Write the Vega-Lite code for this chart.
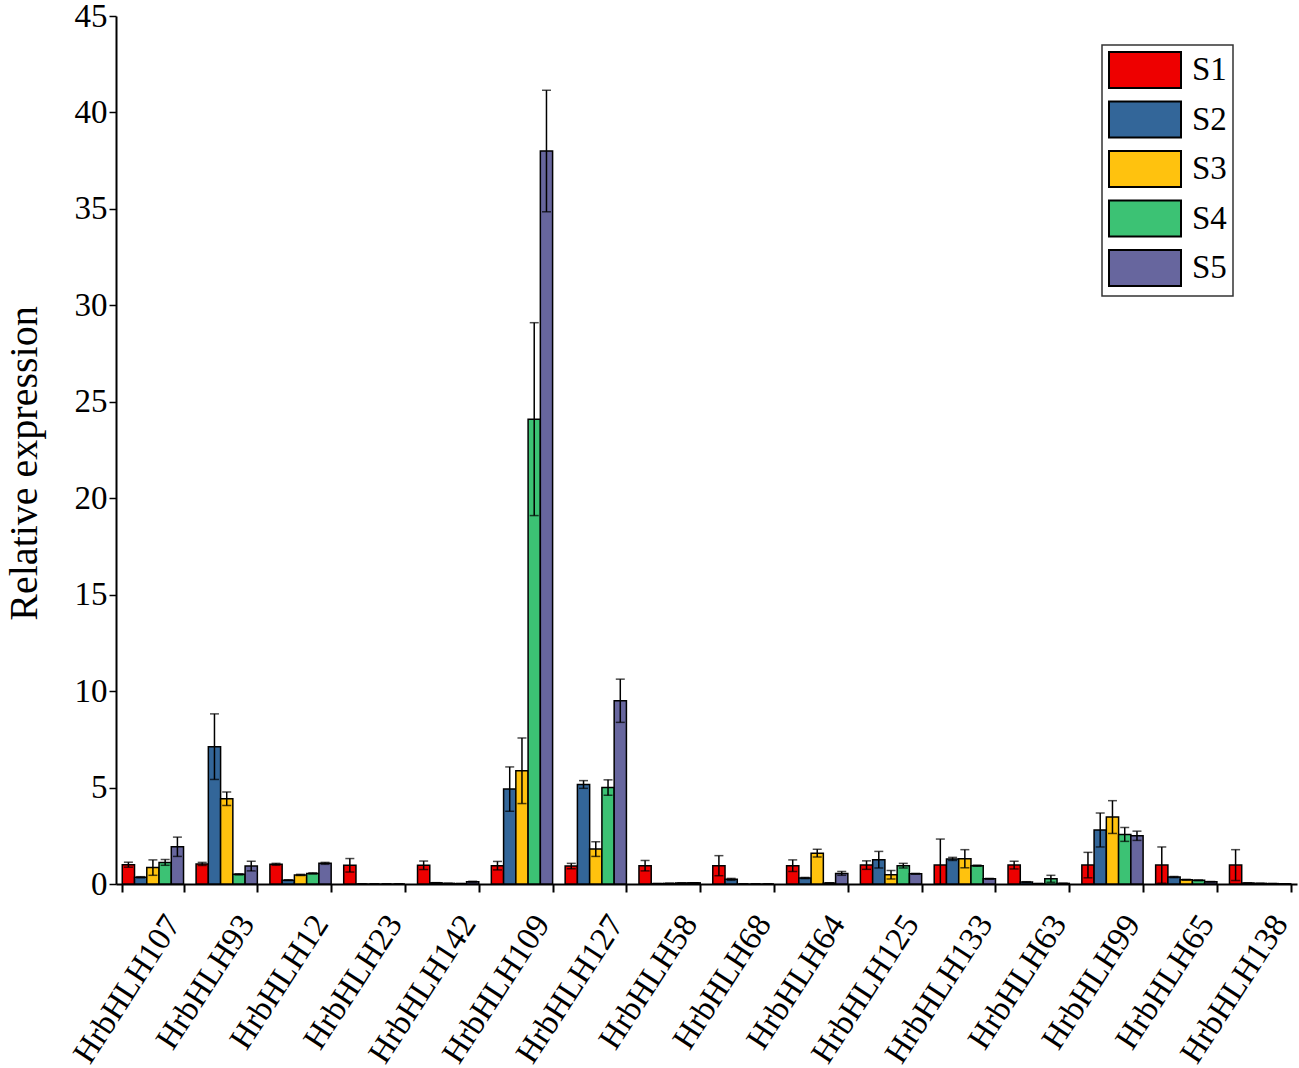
{
  "$schema": "https://vega.github.io/schema/vega-lite/v6.json",
  "width": 1181,
  "height": 868,
  "autosize": {"type": "none"},
  "padding": {"left": 116, "top": 16, "right": 2, "bottom": 184},
  "background": "white",
  "config": {
    "font": "Liberation Serif",
    "view": {"stroke": null},
    "axis": {"grid": false, "domainColor": "black", "tickColor": "black", "labelColor": "black", "titleColor": "black", "labelFont": "Liberation Serif", "titleFont": "Liberation Serif"},
    "legend": {"strokeWidth": 1.5, "labelFont": "Liberation Serif"}
  },
  "data": {
    "values": [
      {"gene": "HrbHLH107", "sample": "S1", "value": 1.0, "err": 0.13},
      {"gene": "HrbHLH107", "sample": "S2", "value": 0.35, "err": 0.03},
      {"gene": "HrbHLH107", "sample": "S3", "value": 0.85, "err": 0.4},
      {"gene": "HrbHLH107", "sample": "S4", "value": 1.12, "err": 0.15},
      {"gene": "HrbHLH107", "sample": "S5", "value": 1.93, "err": 0.5},
      {"gene": "HrbHLH93", "sample": "S1", "value": 1.04, "err": 0.08},
      {"gene": "HrbHLH93", "sample": "S2", "value": 7.12, "err": 1.7},
      {"gene": "HrbHLH93", "sample": "S3", "value": 4.42, "err": 0.35},
      {"gene": "HrbHLH93", "sample": "S4", "value": 0.5, "err": 0.03},
      {"gene": "HrbHLH93", "sample": "S5", "value": 0.93, "err": 0.25},
      {"gene": "HrbHLH12", "sample": "S1", "value": 1.02, "err": 0.05},
      {"gene": "HrbHLH12", "sample": "S2", "value": 0.2, "err": 0.02},
      {"gene": "HrbHLH12", "sample": "S3", "value": 0.47, "err": 0.03},
      {"gene": "HrbHLH12", "sample": "S4", "value": 0.55, "err": 0.03},
      {"gene": "HrbHLH12", "sample": "S5", "value": 1.07, "err": 0.05},
      {"gene": "HrbHLH23", "sample": "S1", "value": 0.97, "err": 0.35},
      {"gene": "HrbHLH23", "sample": "S2", "value": 0, "err": 0},
      {"gene": "HrbHLH23", "sample": "S3", "value": 0, "err": 0},
      {"gene": "HrbHLH23", "sample": "S4", "value": 0, "err": 0},
      {"gene": "HrbHLH23", "sample": "S5", "value": 0, "err": 0},
      {"gene": "HrbHLH142", "sample": "S1", "value": 0.97, "err": 0.22},
      {"gene": "HrbHLH142", "sample": "S2", "value": 0.06, "err": 0.01},
      {"gene": "HrbHLH142", "sample": "S3", "value": 0.03, "err": 0},
      {"gene": "HrbHLH142", "sample": "S4", "value": 0.02, "err": 0},
      {"gene": "HrbHLH142", "sample": "S5", "value": 0.12, "err": 0.02},
      {"gene": "HrbHLH109", "sample": "S1", "value": 0.95, "err": 0.22},
      {"gene": "HrbHLH109", "sample": "S2", "value": 4.92, "err": 1.15},
      {"gene": "HrbHLH109", "sample": "S3", "value": 5.87, "err": 1.7},
      {"gene": "HrbHLH109", "sample": "S4", "value": 24.1, "err": 5.0},
      {"gene": "HrbHLH109", "sample": "S5", "value": 38.0, "err": 3.15},
      {"gene": "HrbHLH127", "sample": "S1", "value": 0.93, "err": 0.14},
      {"gene": "HrbHLH127", "sample": "S2", "value": 5.16, "err": 0.2},
      {"gene": "HrbHLH127", "sample": "S3", "value": 1.81, "err": 0.38},
      {"gene": "HrbHLH127", "sample": "S4", "value": 5.0, "err": 0.4},
      {"gene": "HrbHLH127", "sample": "S5", "value": 9.5, "err": 1.12},
      {"gene": "HrbHLH58", "sample": "S1", "value": 0.95, "err": 0.27},
      {"gene": "HrbHLH58", "sample": "S2", "value": 0.02, "err": 0},
      {"gene": "HrbHLH58", "sample": "S3", "value": 0.03, "err": 0},
      {"gene": "HrbHLH58", "sample": "S4", "value": 0.05, "err": 0},
      {"gene": "HrbHLH58", "sample": "S5", "value": 0.06, "err": 0},
      {"gene": "HrbHLH68", "sample": "S1", "value": 0.95, "err": 0.52},
      {"gene": "HrbHLH68", "sample": "S2", "value": 0.24, "err": 0.05},
      {"gene": "HrbHLH68", "sample": "S3", "value": 0, "err": 0},
      {"gene": "HrbHLH68", "sample": "S4", "value": 0, "err": 0},
      {"gene": "HrbHLH68", "sample": "S5", "value": 0, "err": 0},
      {"gene": "HrbHLH64", "sample": "S1", "value": 0.95, "err": 0.3},
      {"gene": "HrbHLH64", "sample": "S2", "value": 0.31, "err": 0.03},
      {"gene": "HrbHLH64", "sample": "S3", "value": 1.6, "err": 0.2},
      {"gene": "HrbHLH64", "sample": "S4", "value": 0.05, "err": 0.01},
      {"gene": "HrbHLH64", "sample": "S5", "value": 0.55, "err": 0.1},
      {"gene": "HrbHLH125", "sample": "S1", "value": 0.98, "err": 0.22},
      {"gene": "HrbHLH125", "sample": "S2", "value": 1.26, "err": 0.43},
      {"gene": "HrbHLH125", "sample": "S3", "value": 0.48, "err": 0.22},
      {"gene": "HrbHLH125", "sample": "S4", "value": 0.95, "err": 0.12},
      {"gene": "HrbHLH125", "sample": "S5", "value": 0.53, "err": 0.02},
      {"gene": "HrbHLH133", "sample": "S1", "value": 0.98, "err": 1.35},
      {"gene": "HrbHLH133", "sample": "S2", "value": 1.3, "err": 0.08},
      {"gene": "HrbHLH133", "sample": "S3", "value": 1.31, "err": 0.47},
      {"gene": "HrbHLH133", "sample": "S4", "value": 0.95, "err": 0.03},
      {"gene": "HrbHLH133", "sample": "S5", "value": 0.27, "err": 0.02},
      {"gene": "HrbHLH63", "sample": "S1", "value": 0.98, "err": 0.2},
      {"gene": "HrbHLH63", "sample": "S2", "value": 0.1, "err": 0.02},
      {"gene": "HrbHLH63", "sample": "S3", "value": 0.02, "err": 0},
      {"gene": "HrbHLH63", "sample": "S4", "value": 0.27, "err": 0.18},
      {"gene": "HrbHLH63", "sample": "S5", "value": 0.03, "err": 0},
      {"gene": "HrbHLH99", "sample": "S1", "value": 0.98, "err": 0.66},
      {"gene": "HrbHLH99", "sample": "S2", "value": 2.8, "err": 0.88},
      {"gene": "HrbHLH99", "sample": "S3", "value": 3.47, "err": 0.85},
      {"gene": "HrbHLH99", "sample": "S4", "value": 2.57, "err": 0.36},
      {"gene": "HrbHLH99", "sample": "S5", "value": 2.5, "err": 0.24},
      {"gene": "HrbHLH65", "sample": "S1", "value": 0.98, "err": 0.94},
      {"gene": "HrbHLH65", "sample": "S2", "value": 0.36, "err": 0.03},
      {"gene": "HrbHLH65", "sample": "S3", "value": 0.22, "err": 0.02},
      {"gene": "HrbHLH65", "sample": "S4", "value": 0.19, "err": 0.02},
      {"gene": "HrbHLH65", "sample": "S5", "value": 0.12, "err": 0.01},
      {"gene": "HrbHLH138", "sample": "S1", "value": 0.98, "err": 0.8},
      {"gene": "HrbHLH138", "sample": "S2", "value": 0.05, "err": 0},
      {"gene": "HrbHLH138", "sample": "S3", "value": 0.03, "err": 0},
      {"gene": "HrbHLH138", "sample": "S4", "value": 0.02, "err": 0},
      {"gene": "HrbHLH138", "sample": "S5", "value": 0.01, "err": 0}
    ]
  },
  "encoding": {
    "x": {
      "field": "gene",
      "type": "nominal",
      "sort": null,
      "scale": {"paddingInner": 0.17, "paddingOuter": 0.085},
      "axis": {
        "title": null,
        "labelAngle": -57,
        "labelAlign": "right",
        "labelBaseline": "middle",
        "labelFontSize": 33,
        "labelPadding": 26,
        "labelOffset": 20,
        "tickBand": "extent",
        "tickSize": 8,
        "tickWidth": 2,
        "domainWidth": 2
      }
    },
    "xOffset": {"field": "sample", "type": "nominal", "scale": {"paddingInner": 0, "paddingOuter": 0}}
  },
  "layer": [
    {
      "mark": {"type": "bar", "stroke": "black", "strokeWidth": 1.5},
      "encoding": {
        "y": {
          "field": "value",
          "type": "quantitative",
          "scale": {"domain": [0, 45], "nice": false},
          "title": "Relative expression",
          "axis": {
            "titleFontSize": 40,
            "titleFontWeight": "normal",
            "titlePadding": 30,
            "titleY": 447,
            "values": [0, 5, 10, 15, 20, 25, 30, 35, 40, 45],
            "labelFont": "Liberation Serif",
            "labelFontSize": 33,
            "labelPadding": 2,
            "tickSize": 7,
            "tickWidth": 1.5,
            "domainWidth": 2
          }
        },
        "color": {
          "field": "sample",
          "type": "nominal",
          "scale": {"domain": ["S1", "S2", "S3", "S4", "S5"], "range": ["#ee0000", "#336699", "#ffc20e", "#3cc274", "#67669e"]},
          "legend": {
            "title": null,
            "orient": "none",
            "legendX": 986,
            "legendY": 29,
            "symbolType": "M-1,-1H3V1H-1Z",
            "symbolSize": 1296,
            "symbolStrokeColor": "black",
            "symbolStrokeWidth": 2,
            "symbolOpacity": 1,
            "labelFontSize": 33,
            "labelOffset": 46,
            "labelColor": "black",
            "rowPadding": 5.5,
            "padding": 6,
            "strokeColor": "#333333"
          }
        }
      }
    },
    {
      "mark": {"type": "errorbar", "color": "black", "thickness": 1.5, "ticks": {"size": 9}, "clip": true},
      "encoding": {
        "y": {"field": "value", "type": "quantitative", "title": "Relative expression"},
        "yError": {"field": "err"}
      }
    }
  ]
}
